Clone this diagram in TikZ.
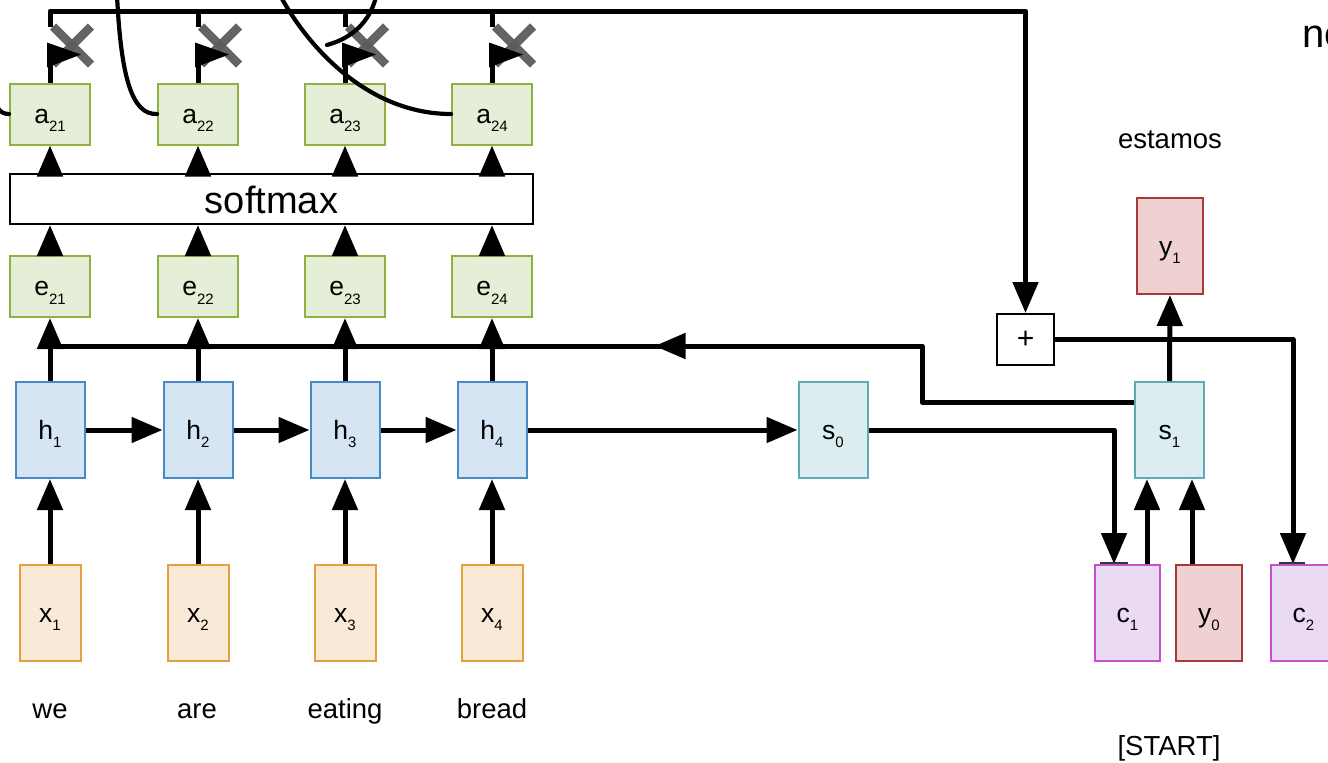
\documentclass[tikz,border=0pt]{standalone}
\usepackage{fontspec}
\setmainfont{Liberation Sans}
\usetikzlibrary{arrows.meta,decorations.markings,calc}
\definecolor{xfill}{HTML}{F8EAD6}\definecolor{xdraw}{HTML}{DFA23C}
\definecolor{hfill}{HTML}{D6E5F3}\definecolor{hdraw}{HTML}{4A89C8}
\definecolor{gfill}{HTML}{E5EFD8}\definecolor{gdraw}{HTML}{8FB13F}
\definecolor{sfill}{HTML}{DBEDEF}\definecolor{sdraw}{HTML}{5DAAB8}
\definecolor{yfill}{HTML}{EFD1D2}\definecolor{ydraw}{HTML}{A33B3B}
\definecolor{cfill}{HTML}{EADAF3}\definecolor{cdraw}{HTML}{C84FD0}
\definecolor{xgray}{HTML}{5C5C5C}
\newcommand\sublbl[2]{#1\raisebox{-8.5pt}{\fontsize{15}{15}\selectfont #2}}
\begin{document}
\begin{tikzpicture}[x=1pt,y=-1pt,
  box/.style={draw, line width=2pt, inner sep=0pt, font=\fontsize{26.5}{26.5}\selectfont, text height=19pt, text depth=1pt},
  xbox/.style={box, fill=xfill, draw=xdraw, minimum width=61pt, minimum height=96pt},
  hbox/.style={box, fill=hfill, draw=hdraw, minimum width=69pt, minimum height=96pt},
  gbox/.style={box, fill=gfill, draw=gdraw, minimum width=80pt, minimum height=61pt},
  sbox/.style={box, fill=sfill, draw=sdraw, minimum width=69pt, minimum height=96pt},
  ybox/.style={box, fill=yfill, draw=ydraw, minimum width=66pt, minimum height=96pt},
  cbox/.style={box, fill=cfill, draw=cdraw, minimum width=65pt, minimum height=96pt},
  wbox/.style={draw, line width=2pt, fill=white, inner sep=0pt},
  word/.style={anchor=base, inner sep=0pt, font=\fontsize{27.5}{27.5}\selectfont},
  conn/.style={line width=5pt, line join=round},
  arr/.style={conn, -{Triangle[length=31pt,width=25pt]}},
  curve/.style={line width=4.2pt, line cap=round},
  xmark/.style={draw=xgray, line width=8.5pt, opacity=0.95},
  tick/.style={draw=black!80, line width=2.5pt}
]
\useasboundingbox (0,0) rectangle (1328,763);
\fill[white] (0,0) rectangle (1328,763);

% nodes
\foreach \i/\x in {1/50,2/198,3/345,4/492}{
  \node[xbox] (x\i) at (\x,613) {\sublbl{x}{\i}};
  \node[hbox] (h\i) at (\x,430) {\sublbl{h}{\i}};
  \node[gbox] (e2\i) at (\x,286.5) {\sublbl{e}{2\i}};
  \node[gbox] (a2\i) at (\x,114) {\sublbl{a}{2\i}};
}
\node[wbox, minimum width=523pt, minimum height=50pt, font=\fontsize{38}{38}\selectfont, text height=28pt, text depth=0pt] (sm) at (271.5,199) {softmax};
\node[sbox] (s0) at (833,430) {\sublbl{s}{0}};
\node[sbox] (s1) at (1169.5,430) {\sublbl{s}{1}};
\node[ybox] (y1) at (1170,246) {\sublbl{y}{1}};
\node[ybox] (y0) at (1209,613) {\sublbl{y}{0}};
\node[cbox] (c1) at (1127.5,613) {\sublbl{c}{1}};
\node[cbox] (c2) at (1303.5,613) {\sublbl{c}{2}};
\node[wbox, minimum width=57pt, minimum height=51pt, font=\fontsize{30}{30}\selectfont] (plus) at (1025.5,339.5) {+};

% words
\node[word] (w1) at (50,718) {we};
\node[word] (w2) at (197,718) {are};
\node[word] (w3) at (345,718) {eating};
\node[word] (w4) at (492,718) {bread};
\node[word] (est) at (1170,148) {estamos};
\node[word] (start) at (1169,755) {[START]};
\node[anchor=base west, inner sep=0pt, font=\fontsize{40}{40}\selectfont] (ne) at (1302,47) {ne};

% encoder connectors
\foreach \i in {1,2,3,4}{
  \draw[arr] (x\i.north) -- (h\i.south);
  \draw[arr] (h\i.north) -- (e2\i.south);
  \draw[arr] (e2\i.north) -- (e2\i.north |- sm.south);
  \draw[arr] (sm.north -| a2\i.north) -- (a2\i.south);
}
\draw[arr] (h1.east) -- (h2.west);
\draw[arr] (h2.east) -- (h3.west);
\draw[arr] (h3.east) -- (h4.west);
\draw[arr] (h4.east) -- (s0.west);

% line from s1 back to the e row
\coordinate (hturn) at (922,346);
\coordinate (hl) at (47,346);
\draw[conn, postaction={decorate}, decoration={markings, mark=at position 0.4685 with {\arrow{Triangle[length=31pt,width=25pt]}}}]
  ([yshift=28pt]s1.west) -| (hturn) -- (hl);

% decoder connectors
\draw[arr] (s0.east) -| ([xshift=-13.5pt]c1.north);
\draw[tick] ([xshift=-27.5pt,yshift=1pt]c1.north) -- ([xshift=0.5pt,yshift=1pt]c1.north);
\draw[arr] ([xshift=19.5pt]c1.north) -- ([xshift=19.5pt]c1.north |- s1.south);
\draw[arr] ([xshift=-17pt]y0.north) -- ([xshift=-17pt]y0.north |- s1.south);
\draw[arr] (s1.north) -- (y1.south);
\draw[arr] (plus.east) -| ([xshift=-10.5pt]c2.north);
\draw[tick] ([xshift=-24.5pt,yshift=1pt]c2.north) -- ([xshift=1.5pt,yshift=1pt]c2.north);

% top connector to the + box
\coordinate (topstub) at (a21.north |- 0,27);
\draw[arr] (topstub) |- (plus.north |- 0,11) -- (plus.north);
\foreach \n in {a22,a23,a24}{
  \draw[conn] (\n.north |- 0,11) -- (\n.north |- 0,27);
}

% ghost arrows and crosses above the a nodes
\foreach \n in {a21,a22,a23,a24}{
  \draw[conn] (\n.north) -- ++(0,-21);
  \draw[xmark] ($(\n.north)+(3,-56)$) -- ($(\n.north)+(41,-18)$);
  \draw[xmark] ($(\n.north)+(41,-56)$) -- ($(\n.north)+(3,-18)$);
  \fill ($(\n.north)+(-3,-40)$) -- ($(\n.north)+(-3,-15)$) -- ($(\n.north)+(31,-28)$) -- cycle;
}

% curves
\coordinate (cv1) at (-10,78);
\coordinate (cv2) at (117,-5);
\coordinate (cv3) at (281,-3);
\coordinate (cv4a) at (376,-3);
\coordinate (cv4b) at (327,45);
\draw[curve] (cv1) .. controls (-7,108) and (0,114) .. (a21.west);
\draw[curve] (cv2) .. controls (121,78) and (132,115) .. (a22.west);
\draw[curve] (cv3) .. controls (310,50) and (370,114) .. (a24.west);
\draw[curve] (cv4a) .. controls (368,28) and (345,40) .. (cv4b);
\end{tikzpicture}
\end{document}
